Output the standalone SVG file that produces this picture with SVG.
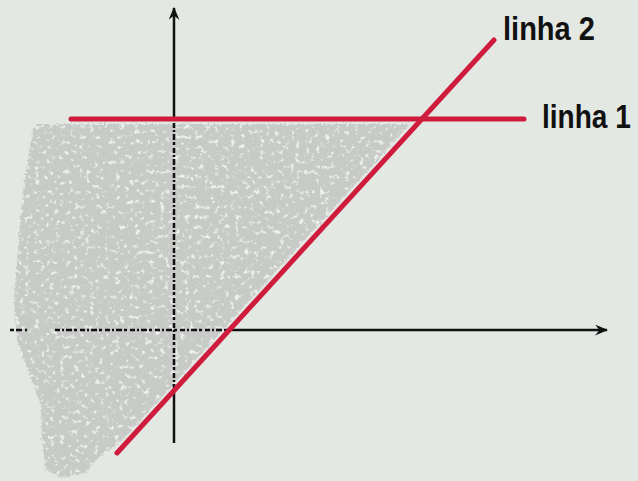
<svg xmlns="http://www.w3.org/2000/svg" width="638" height="481" viewBox="0 0 638 481">
  <style>
    .axis { stroke: #111; stroke-width: 2.5; fill: none; }
    .dash { stroke: #111; stroke-width: 2.5; fill: none; stroke-dasharray: 5 2 2 2 6 2 3 3; }
    .red { stroke: #cf1b3c; stroke-width: 5; fill: none; stroke-linecap: round; }
    .lbl { font-family: "Liberation Sans", Arial, sans-serif; font-size: 33px; font-weight: bold; fill: #111; }
  </style>
  <defs>
    <marker id="arr" viewBox="0 0 12 10" refX="11" refY="5" markerWidth="13" markerHeight="11" markerUnits="userSpaceOnUse" orient="auto">
      <path d="M0,0 L12,5 L0,10 L4,5 z" fill="#111"/>
    </marker>
    <filter id="grain" x="-5%" y="-5%" width="110%" height="110%">
      <feTurbulence type="fractalNoise" baseFrequency="0.5" numOctaves="2" seed="7" result="t"/>
      <feDisplacementMap in="SourceGraphic" in2="t" scale="7" xChannelSelector="R" yChannelSelector="G" result="d"/>
      <feTurbulence type="fractalNoise" baseFrequency="0.2" numOctaves="3" seed="11" result="t2"/>
      <feColorMatrix in="t2" type="matrix" values="0 0 0 0 0.86  0 0 0 0 0.88  0 0 0 0 0.86  5 0 0 0 -2.9" result="s"/>
      <feComposite in="s" in2="d" operator="in" result="sp"/>
      <feMerge><feMergeNode in="d"/><feMergeNode in="sp"/></feMerge>
    </filter>
  </defs>
  <rect width="638" height="481" fill="#e3e8e3"/>
  <g id="shade">
    <polygon filter="url(#grain)" fill="#c7cac6" points="35,124 410,124 132,430 120,442 100,456 86,472 62,478 46,470 42,440 41,405 30,375 17,340 14,300 18,250 22,200 28,160 33,130"/>
  </g>
  <g id="connectors">
    <line class="axis" x1="174" y1="120" x2="174" y2="8" marker-end="url(#arr)"/>
    <line class="dash" x1="174" y1="123" x2="174" y2="386"/>
    <line class="axis" x1="174" y1="384" x2="174" y2="443"/>
    <line class="dash" x1="55" y1="330" x2="230" y2="330"/>
    <line class="axis" x1="10" y1="330" x2="27" y2="330" stroke-dasharray="4 2 6 3"/>
    <line class="axis" x1="229" y1="330" x2="607" y2="330" marker-end="url(#arr)"/>
  </g>
  <g id="linha1">
    <line class="red" x1="71" y1="119" x2="524" y2="119"/>
    <text class="lbl" transform="translate(542,128) scale(0.85,1)">linha 1</text>
  </g>
  <g id="linha2">
    <line class="red" x1="117" y1="453" x2="494" y2="40"/>
    <text class="lbl" transform="translate(503,40) scale(0.88,1)">linha 2</text>
  </g>
</svg>
